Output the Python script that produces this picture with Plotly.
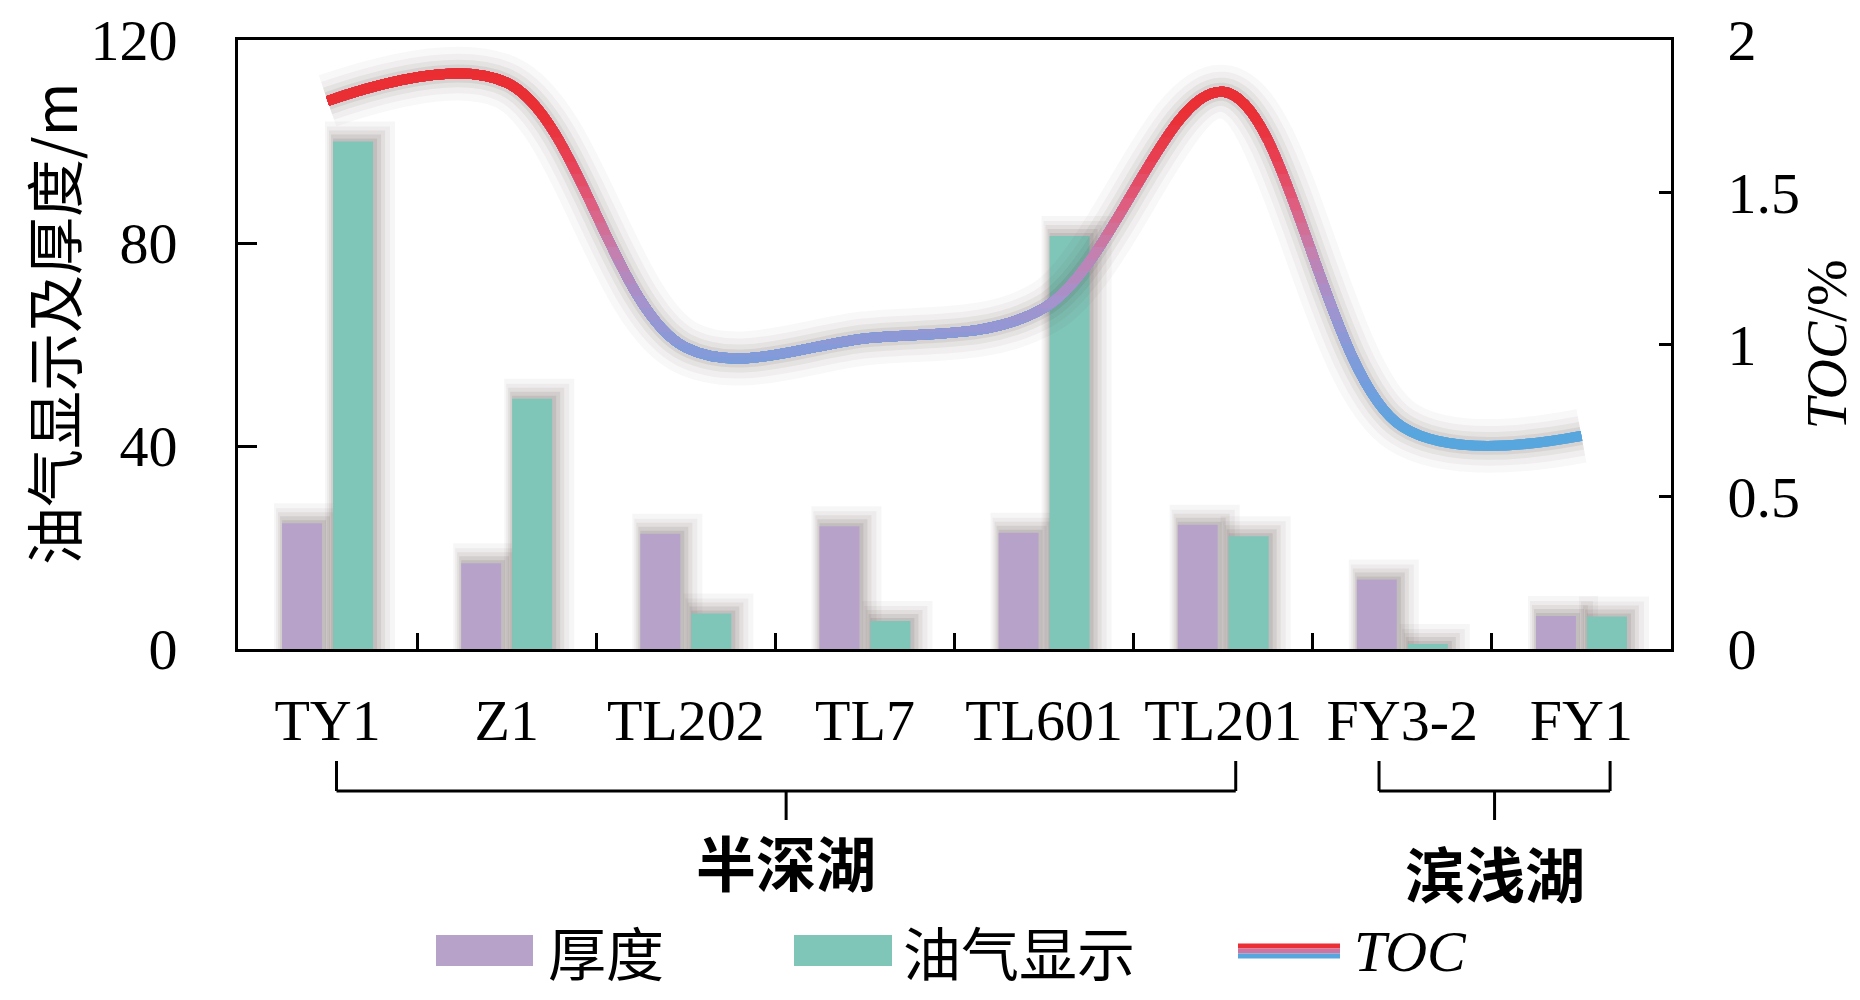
import plotly.graph_objects as go

# ---------------- data ----------------
wells = ["TY1", "Z1", "TL202", "TL7", "TL601", "TL201", "FY3-2", "FY1"]
thickness = [24.8, 16.9, 22.7, 24.2, 22.9, 24.5, 13.7, 6.5]      # 厚度 (m)
oil_show = [100.0, 49.3, 7.0, 5.5, 81.4, 22.2, 1.0, 6.4]         # 油气显示 (m)
toc = [1.80, 1.86, 0.99, 1.02, 1.12, 1.83, 0.73, 0.70]            # TOC (%)
left_ticks = [0, 40, 80, 120]
right_ticks = [0, 0.5, 1, 1.5, 2]
right_tick_labels = ["0", "0.5", "1", "1.5", "2"]
groups = [("半深湖", 0, 5), ("滨浅湖", 6, 7)]
legend_names = ["厚度", "油气显示", "TOC"]
left_title = "油气显示及厚度/m"

# ---------------- style ----------------
FONT = "Liberation Serif, Times New Roman, Noto Sans CJK SC, serif"
CJK = "Noto Sans CJK SC"
PURPLE = "#B7A3CA"
TEAL = "#7FC5B8"
W, H = 1860, 1000
PAGE = 6  # page offset of the figure inside the browser window
ML, MR, MT, MB = 236 - PAGE, 191 + PAGE, 38 - PAGE, 353 + PAGE
PW = W - ML - MR
PH = H - MT - MB
CAT_PX = PW / len(wells)
Y1_MAX = 120
Y2_MAX = 2

def px2cat(p):
    return p / CAT_PX

BAR_W = px2cat(40)
OFF_PURPLE = px2cat(-45.5)
OFF_TEAL = px2cat(5.5)

# TOC gradient colour stops (value -> rgb)
stops = [
    (0.00, (88, 166, 222)),
    (0.70, (88, 166, 222)),
    (0.85, (114, 158, 222)),
    (1.00, (136, 154, 216)),
    (1.15, (166, 146, 204)),
    (1.30, (196, 128, 175)),
    (1.45, (222, 96, 130)),
    (1.60, (232, 64, 84)),
    (1.75, (234, 48, 54)),
    (2.00, (234, 44, 48)),
]

def grad(v):
    for (a, ca), (b, cb) in zip(stops[:-1], stops[1:]):
        if a <= v <= b:
            t = (v - a) / (b - a) if b > a else 0
            c = [round(ca[i] + (cb[i] - ca[i]) * t) for i in range(3)]
            return "rgb(%d,%d,%d)" % tuple(c)
    return "rgb(%d,%d,%d)" % stops[-1][1]

fig = go.Figure()

# ---- bar shadows (soft grey drop shadow, to the right and above) ----
# (extend-left px, extend-right px, extend-top px, alpha)
shadow_layers = [(0, 4, 3, 0.12), (2, 8, 7, 0.10), (4, 12, 11, 0.08),
                 (6, 17, 15, 0.06), (8, 22, 20, 0.05)]
for vals, off in ((thickness, OFF_PURPLE), (oil_show, OFF_TEAL)):
    for el, er, et, a in shadow_layers:
        fig.add_trace(go.Bar(
            x=wells, y=[v + et * Y1_MAX / PH for v in vals],
            offset=off - px2cat(el), width=BAR_W + px2cat(el + er),
            marker=dict(color="rgba(90,72,70,%.2f)" % a, line=dict(width=0)),
            hoverinfo="skip", showlegend=False))

# ---- main bars ----
fig.add_trace(go.Bar(x=wells, y=thickness, name=legend_names[0], offset=OFF_PURPLE, width=BAR_W,
                     marker=dict(color=PURPLE, line=dict(width=0)), showlegend=False))
fig.add_trace(go.Bar(x=wells, y=oil_show, name=legend_names[1], offset=OFF_TEAL, width=BAR_W,
                     marker=dict(color=TEAL, line=dict(width=0)), showlegend=False))

# ---- TOC glow on the right axis ----
for wdt, a in ((54, 0.035), (40, 0.05), (28, 0.07), (18, 0.09)):
    fig.add_trace(go.Scatter(x=wells, y=toc, yaxis="y2", mode="lines",
                             line=dict(color="rgba(80,66,64,%.3f)" % a, width=wdt, shape="spline"),
                             hoverinfo="skip", showlegend=False))

# ---- TOC line with vertical colour gradient: nested clipped subplots ----
levels = [0.0] + [round(0.60 + 0.04 * k, 2) for k in range(33)]
levels = [l for l in levels if l < 1.92]
layout_axes = {}
for k, lvl in enumerate(levels):
    ax = "y%d" % (k + 3)
    nxt = levels[k + 1] if k + 1 < len(levels) else Y2_MAX
    col = grad((lvl + nxt) / 2 if k > 0 else 0.6)
    layout_axes["yaxis%d" % (k + 3)] = dict(domain=[lvl / Y2_MAX, 1], range=[lvl, Y2_MAX],
                                            visible=False, anchor="x", fixedrange=True,
                                            automargin=False)
    fig.add_trace(go.Scatter(x=wells, y=toc, yaxis=ax, mode="lines", name=legend_names[2],
                             line=dict(color=col, width=10, shape="spline"),
                             hoverinfo="skip", showlegend=False))

# ---- helpers: window pixel -> paper ----
def ppx(py):
    return (MT + PH - (py - PAGE)) / PH

def ppxx(px):
    return ((px - PAGE) - ML) / PW

shapes = []
annotations = []

# ---- left axis title (rotated text) ----
annotations.append(dict(text=left_title, xref="paper", yref="paper", x=ppxx(50), y=ppx(322),
                        textangle=-90, showarrow=False, xanchor="center", yanchor="middle",
                        font=dict(family=CJK, size=58, color="black")))

# ---- group braces below the category labels ----
y_top, y_mid, y_bot = ppx(759), ppx(789), ppx(818)
brace_pad = [(0.05, 0.07), (-0.13, 0.16)]
label_py = [858, 869]
for (name, i0, i1), (pl, pr), lp in zip(groups, brace_pad, label_py):
    xa, xb = i0 + pl, i1 + pr
    xm = (xa + xb) / 2
    ln = dict(color="black", width=3)
    shapes += [
        dict(type="line", xref="x", yref="paper", x0=xa, x1=xa, y0=y_top, y1=y_mid, line=ln),
        dict(type="line", xref="x", yref="paper", x0=xb, x1=xb, y0=y_top, y1=y_mid, line=ln),
        dict(type="line", xref="x", yref="paper", x0=xa, x1=xb, y0=y_mid, y1=y_mid, line=ln),
        dict(type="line", xref="x", yref="paper", x0=xm, x1=xm, y0=y_mid, y1=y_bot, line=ln),
    ]
    annotations.append(dict(text="<b>%s</b>" % name, xref="x", yref="paper", x=xm, y=ppx(lp),
                            showarrow=False, xanchor="center", yanchor="middle",
                            font=dict(family=CJK, size=60, color="black")))

# ---- manual legend ----
ly0, ly1, lyc = ppx(933), ppx(964), ppx(949)
shapes += [
    dict(type="rect", xref="paper", yref="paper", x0=ppxx(434), x1=ppxx(531), y0=ly1, y1=ly0,
         fillcolor=PURPLE, line=dict(width=0)),
    dict(type="rect", xref="paper", yref="paper", x0=ppxx(792), x1=ppxx(890), y0=ly1, y1=ly0,
         fillcolor=TEAL, line=dict(width=0)),
]
for dy, c in ((-5, grad(1.8)), (0, grad(1.35)), (5, grad(0.7))):
    shapes.append(dict(type="line", xref="paper", yref="paper", x0=ppxx(1236), x1=ppxx(1338),
                       y0=ppx(949 + dy), y1=ppx(949 + dy), line=dict(color=c, width=5)))
for txt, px, fam in ((legend_names[0], 544, CJK),
                     (legend_names[1], 899, CJK),
                     ("<i>%s</i>" % legend_names[2], 1350, FONT)):
    annotations.append(dict(text=txt, xref="paper", yref="paper", x=ppxx(px), y=lyc,
                            showarrow=False, xanchor="left", yanchor="middle",
                            font=dict(family=fam, size=58, color="black")))

axis_common = dict(showline=True, linecolor="black", linewidth=3, ticks="inside",
                   tickcolor="black", tickwidth=3, showgrid=False, zeroline=False,
                   automargin=False, ticklabeloverflow="allow",
                   tickfont=dict(family=FONT, size=58, color="black"))

fig.update_layout(
    width=W, height=H,
    margin=dict(l=ML, r=MR, t=MT, b=MB, autoexpand=False),
    paper_bgcolor="white", plot_bgcolor="rgba(0,0,0,0)",
    barmode="overlay",
    showlegend=False,
    font=dict(family=FONT, color="black"),
    xaxis=dict(**axis_common, type="category", categoryorder="array", categoryarray=wells,
               range=[-0.5, len(wells) - 0.5], ticklen=16, tickson="boundaries",
               mirror=True, ticklabelstandoff=18, anchor="y"),
    yaxis=dict(**axis_common, range=[0, Y1_MAX], tickvals=left_ticks, ticklen=19,
               ticklabelstandoff=46),
    yaxis2=dict(**axis_common, overlaying="y", side="right", range=[0, Y2_MAX],
                tickvals=right_ticks, ticktext=right_tick_labels, ticklen=12,
                ticklabelstandoff=42,
                title=dict(text="<i>TOC</i>/%", standoff=8,
                           font=dict(family=FONT, size=56, color="black"))),
    shapes=shapes,
    annotations=annotations,
    **layout_axes,
)

fig.write_html("out.html")
